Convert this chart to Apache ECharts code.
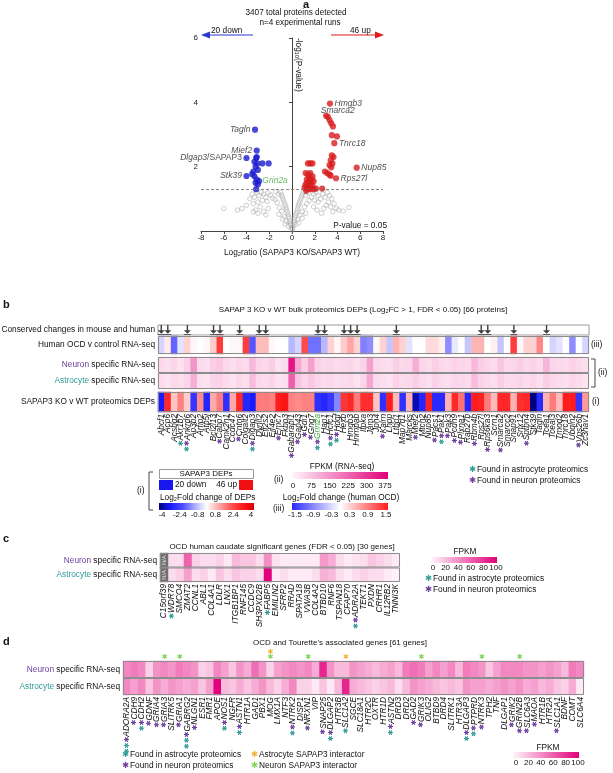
<!DOCTYPE html>
<html>
<head>
<meta charset="utf-8">
<script src="https://cdn.jsdelivr.net/npm/echarts/dist/echarts.min.js"></script>
<style>
html,body{margin:0;padding:0;background:#ffffff;}
#chart{width:613px;height:773px;}
</style>
</head>
<body>
<div id="chart"></div>
<script>
// ================= DATA =================
// ---- Panel a: volcano (x = log2 ratio, y = -log10 p) ----
const volcanoGray = [
 [0.0,0.02],[0.05,0.08],[-0.05,0.1],[0.1,0.15],[-0.1,0.18],[0.15,0.25],[-0.15,0.22],[0.2,0.32],[-0.2,0.3],
 [0.25,0.4],[-0.25,0.38],[0.3,0.48],[-0.3,0.45],[0.38,0.55],[-0.35,0.53],[0.45,0.62],[-0.42,0.6],[0.5,0.7],
 [-0.5,0.68],[0.55,0.78],[-0.55,0.75],[0.62,0.85],[-0.62,0.82],[0.7,0.92],[-0.7,0.9],[0.78,1.0],[-0.78,0.98],
 [0.85,1.08],[-0.85,1.05],[0.92,1.15],[-0.92,1.12],[1.0,1.22],[-1.0,1.2],
 [0.3,0.2],[-0.3,0.15],[0.5,0.35],[-0.5,0.3],[0.7,0.5],[-0.7,0.45],[0.9,0.6],[-0.9,0.62],[1.1,0.75],[-1.1,0.72],
 [1.3,0.85],[-1.3,0.88],[1.5,0.95],[-1.5,0.98],[1.7,1.05],[-1.7,1.02],[1.2,1.1],[-1.2,1.15],[1.45,1.2],[-1.45,1.22],
 [0.6,0.25],[-0.6,0.22],[0.9,0.4],[-0.85,0.38],[1.2,0.55],[-1.15,0.52],
 [1.9,1.15],[2.1,1.2],[2.3,1.1],[2.0,0.95],[2.3,0.9],[2.5,1.0],[2.7,1.15],[2.9,1.05],[3.1,1.2],[3.3,1.1],
 [3.5,1.0],[3.2,0.9],[3.0,0.8],[2.8,0.7],[3.4,0.75],[3.7,0.85],[3.9,0.7],[4.1,0.65],[3.6,0.6],[2.6,0.55],
 [1.9,0.75],[2.2,0.65],[5.0,0.73],[4.5,0.62],
 [-1.9,1.12],[-2.1,1.18],[-2.3,1.05],[-2.5,1.15],[-2.7,1.2],[-2.9,1.1],[-3.1,1.2],[-3.3,1.05],[-3.5,1.15],
 [-3.7,1.0],[-2.2,0.92],[-2.6,0.95],[-3.0,0.9],[-3.4,0.85],[-2.8,0.75],[-3.2,0.65],[-2.5,0.6],[-3.0,0.55],
 [-3.4,0.6],[-2.1,0.7],[-4.0,0.8],[-4.4,0.7],[-4.8,0.65],[-6.0,0.7],[-2.3,0.5]
];
const volcanoDown = [
 [-3.25,3.15],[-3.1,2.5],[-4.0,2.27],[-3.15,2.27],[-3.3,2.15],[-3.05,2.1],[-2.6,2.1],[-2.05,2.1],[-3.2,2.0],
 [-3.0,1.9],[-4.0,1.71],[-3.5,1.77],[-3.3,1.7],[-3.1,1.6],[-3.2,1.5],[-3.0,1.45],[-3.15,1.3],[-3.4,1.85],
 [-2.9,1.55],[-3.1,2.3]
];
const volcanoUp = [
 [3.34,3.96],[3.0,3.58],[3.15,3.55],[3.3,3.45],[3.45,3.35],[3.6,3.25],[3.5,2.98],[3.95,2.94],[3.72,2.73],
 [3.5,2.35],[3.65,2.3],[3.4,2.2],[3.3,2.05],[3.45,1.98],[3.55,2.1],[5.69,1.97],[2.9,1.85],[3.1,1.8],[3.3,1.75],
 [3.87,1.64],[2.65,1.32],[3.4,1.72],
 [1.4,2.1],[1.6,2.1],[1.8,2.1],[1.2,1.8],[1.4,1.75],[1.6,1.8],[1.8,1.7],[1.3,1.6],[1.5,1.55],[1.7,1.6],
 [1.9,1.55],[1.2,1.45],[1.4,1.4],[1.6,1.45],[1.8,1.4],[1.1,1.35],[1.3,1.32],[1.5,1.3],[1.7,1.32],[1.9,1.3],
 [2.1,1.32],[1.35,1.5],[1.55,1.65],[1.25,1.25]
];
const downLabelIdx = [[0,'Tagln'],[1,'Mief2'],[2,'Dlgap3/SAPAP3'],[10,'Stk39'],[13,'Grin2a']];
const upLabelIdx = [[0,'Hmgb3'],[1,'Smarca2'],[8,'Tnrc18'],[15,'Nup85'],[19,'Rps27l']];
const pThreshold = 1.301; // -log10(0.05)

// ---- Panel b ----
const bProteins = ["Abcf1","Acp6","Acsbg2","Akr1b7","Ankrd6","Ap3b2","Arfip2","Atp5j","Bcl2l13","Cabp7",
 "Camk2n1","Ccdc47","Cntn6","Colgalt2","Dlgap3","Dynll2","Eif2s2","Eif4e2","Emc7","Fkbp3",
 "Gabarapl1","Gap43","Gdi1","Gng7","Grin2a","Hap1","Hcfc1","Hdgf","Hexb","Hmgb3",
 "Hnrnpab","Itpka","Jam3","Jph4","Kalrn","Lhpp","Ltbp1","Map7d1","Marcks","Mief2",
 "Mtch2","Nup85","Pacs1","Pak1","Pak3","Pcdh9","Plxna1","Rab27b","Rbm4b","Rps27l",
 "Rps6ka3","Scrn1","Smarca2","Smarcc2","Snap91","Snx12","Sptbn4","Stk39","Tagln","Tcea1",
 "Tceal3","Tmod2","Tnrc18","Ubqln2","Vps26b","Zc3hav1"];
const bDEP = [-3.0,2.8,0.7,1.5,0.6,-2.5,1.4,-2.8,1.0,1.6, -2.6,1.0,2.8,-2.8,-3.0,1.6,1.6,1.5,3.0,3.2,
 1.5,1.4,1.5,1.5,-2.6,-2.8,-2.4,-1.4,2.6,2.8, 1.6,2.7,2.7,0.7,-2.6,3.0,0.8,-2.6,0.9,-3.6,
 -2.8,2.9,-2.7,-2.7,0.9,2.8,1.7,-2.8,3.0,2.9, 1.6,0.8,2.8,2.8,0.9,2.7,2.8,-4.0,-2.7,0.9,
 1.6,0.8,3.0,3.0,-2.5,1.2];
const bHumanOCD = [-0.3,0.15,-1.1,-0.2,0.3,0.05,0.0,0.05,0.35,1.3, 0.0,0.05,0.05,1.3,-1.2,0.45,0.45,0.05,0.0,0.0,
 -0.5,-0.3,1.2,-1.0,-1.0,-0.5,0.3,0.05,0.35,0.6, 0.3,-0.9,-0.8,0.05,0.3,-0.4,0.5,0.3,-0.2,0.0,
 0.0,0.25,0.25,0.1,-0.8,-0.15,0.0,-0.4,0.5,0.5, 0.0,0.1,-0.4,0.0,1.3,0.05,0.3,0.3,0.8,0.0,
 -0.3,-0.2,0.0,-0.8,0.0,-0.3];
const bNeuronFPKM = [45,35,50,30,55,150,40,35,60,70, 45,35,50,40,95,50,45,60,30,40,
 345,120,60,130,55,45,50,40,45,50, 35,55,130,45,40,35,60,45,50,110,
 50,40,60,45,40,55,50,45,95,60, 50,40,75,45,50,60,45,55,40,100, 50,45,40,55,45,35];
const bAstroFPKM = [40,30,45,35,50,110,35,30,50,55, 40,30,45,35,90,45,40,50,30,35,
 230,80,50,70,50,40,45,35,40,45, 30,50,120,40,35,30,55,40,45,60,
 45,35,55,40,35,50,45,40,90,55, 45,35,60,40,45,50,40,50,35,60, 45,40,35,50,40,30];
const bConserved = [0,1,4,8,9,12,15,16,24,25,28,29,30,36,49,50,54,59];
// star codes: p = found in neuron proteomics, t = found in astrocyte proteomics (nearest the name first)
const bStars = {3:'t',4:'pt',9:'p',12:'p',14:'pt',18:'p',20:'p',21:'p',22:'p',23:'p',24:'pt',26:'pt',27:'pt',
 34:'p',39:'p',42:'p',43:'pt',44:'p',45:'p',46:'p',48:'p',50:'p',52:'p',56:'p',64:'p'};
const bRowsII = ['Neuron','Astrocyte'];
const depTicks = ['-4','-2.4','-0.8','0.8','2.4','4'];
const ocdTicks = ['-1.5','-0.9','-0.3','0.3','0.9','1.5'];
const fpkmTicksB = ['0','75','150','225','300','375'];

// ---- Panel c ----
const cGenes = ['C15orf39','WDR78','SMCO4','ZMAT2','CCNL1','ABL1','COL4A1','LDLR','LNX1','ITGB1BP1',
 'RNF145','CCDC9','SH3PXD2B','FABP5','EMILIN2','SFRP2','RRAD','SPATA18','VWA3B','COL4A2',
 'BTBD10','RNF6','TSPAN18','CFAP70','ADRA2A','TEKT1','PXDN','CRHR1','IL12RB2','TNNI3K'];
const cNeuron = [null,10,10,60,15,10,10,15,5,25, 20,20,10,42,8,5,5,5,5,5, 38,30,10,5,8,10,20,15,10,5];
const cAstro  = [null,10,15,35,10,15,5,20,10,20, 15,15,10,100,5,10,5,5,5,10, 28,25,10,5,10,15,10,10,5,2];
const cStars = {1:'t',13:'t',24:'pt'};
const fpkmTicksCD = ['0','20','40','60','80','100'];

// ---- Panel d ----
const dGenes = ['ADORA2A','CDH9','CDH2','GDNF','GRIA4','GRIA3','SLITRK5','GRIA1','GABRG2','NLGN1',
 'ESR1','FMR1','APOE','NOS1','NGFR','ASTN1','HTR1A','GAD1','PBX1','MOG',
 'LMX1A','NTF3','NTRK2','DISP1','NRXN1','VIP','SNAP25','DLGAP2','HTR3B','SLC1A2',
 'SGCE','SLC18A1','HTR2C','OXTR','HTR1D','ASTN2','DRD3','DRD2','GAD2','GRIK3',
 'OLIG2','BTBD9','DRD4','SLITRK1','HTR3A','DLGAP3','PTPRD','NTRK3','TPH2','TNF',
 'DLGAP1','GRIK2','GRIN2B','SLC6A3','MAOA','HTR1B','HTR2A','SLC1A1','BDNF','COMT','SLC6A4'];
const dNeuron = [45,50,45,15,40,45,40,50,45,40, 15,20,45,35,20,40,30,55,40,15, 35,40,45,40,
 45,30,85,40,25,25,40,35,30,25, 30,35,25,50,55,50,35,45,35,45, 25,50,45,40,20,35,45,45,45,40, 40,35,40,35,25,50,45];
const dAstro = [45,35,45,20,40,30,40,35,30,35, 20,35,100,25,20,30,20,30,40,25, 15,30,45,15,
 15,5,20,5,25,85,30,25,20,15, 20,25,10,25,40,35,30,25,20,25, 20,40,35,35,30,35,40,35,40,30, 35,25,30,20,15,30,5];
const dStars = {0:'ptt',1:'p',2:'pt',3:'p',4:'p',5:'p',7:'p',8:'ptt',9:'p',13:'pt',15:'pt',22:'pt',24:'p',
 26:'p',27:'pt',29:'t',35:'pt',38:'p',39:'p',45:'pt',46:'pt',47:'p',51:'p',52:'p',53:'p',54:'p',57:'p'};
// SAPAP3 interactors: o = astrocyte interactor, g = neuron interactor
const dInteractors = {5:'g',7:'g',19:'og',24:'g',29:'o',39:'g',47:'g',52:'g'};

// ================= STYLE =================
const FONT = '"Liberation Sans", Arial, Helvetica, sans-serif';
const SYMF = '"DejaVu Sans", sans-serif';
const C_PURPLE = '#6a3d9e', C_TEAL = '#2f9c98', C_GREEN = '#7fd356', C_ORANGE = '#f2b13c', C_GENEGREEN = '#3ea83e';
const depColors = ['#00007e','#1a1aff','#4f4fff','#a9a9ff','#ffffff','#ffaaaa','#ff5a5a','#ff1c1c','#dd0000'];
const ocdColors = ['#2a2aff','#ffffff','#ff1e1e'];
const fpkmColors = ['#fff6fa','#e2007b'];
const STAR = '\u2731';

const chart = echarts.init(document.getElementById('chart'), null, {renderer:'canvas', width:613, height:773});

const starRich = {
  p:{color:C_PURPLE, fontSize:7, fontFamily:SYMF, fontStyle:'normal'},
  t:{color:C_TEAL, fontSize:7, fontFamily:SYMF, fontStyle:'normal'},
  n:{color:'#111', fontSize:8.3, fontFamily:FONT, fontStyle:'italic'},
  gg:{color:C_GENEGREEN, fontSize:8.3, fontFamily:FONT, fontStyle:'italic'}
};
function geneLabel(name, code, style){
  let s = '';
  if (code) for (let i = code.length-1; i >= 0; i--) s += '{' + code[i] + '|' + STAR + '}';
  return s + '{' + (style || 'n') + '|' + name + '}';
}
const rowLabelRich = {
  s:{color:'#111', fontSize:8.3, fontFamily:FONT},
  nn:{color:C_PURPLE, fontSize:8.3, fontFamily:FONT},
  aa:{color:C_TEAL, fontSize:8.3, fontFamily:FONT}
};
function rowLabel(v){
  if (v === 'Neuron') return '{nn|Neuron}{s| specific RNA-seq}';
  if (v === 'Astrocyte') return '{aa|Astrocyte}{s| specific RNA-seq}';
  return '{s|' + v + '}';
}

const labelPlacement = {Tagln:'left', Mief2:'left', 'Dlgap3/SAPAP3':'left', Stk39:'left', Grin2a:'right',
  Hmgb3:'right', Smarca2:'right', Tnrc18:'right', Nup85:'right', Rps27l:'right'};
const labelOffset = {Smarca2:[-10,-5], Grin2a:[1,1]};
function volcanoData(pts, labs){
  return pts.map((p, i) => {
    const L = labs.find(l => l[0] === i);
    const d = {value: p};
    if (L) {
      const name = L[1];
      let fmt = '{i|' + name + '}';
      if (name === 'Dlgap3/SAPAP3') fmt = '{i|Dlgap3}{r|/SAPAP3}';
      if (name === 'Grin2a') fmt = '{gr|Grin2a}';
      d.label = {show:true, position: labelPlacement[name], distance:1.5, offset: labelOffset[name] || [0,0],
        formatter: fmt,
        rich:{ i:{fontSize:8.5, fontStyle:'italic', color:'#222', fontFamily:FONT},
               r:{fontSize:8.5, color:'#222', fontFamily:FONT},
               gr:{fontSize:8.5, fontStyle:'italic', color:C_GENEGREEN, fontFamily:FONT}}};
    }
    return d;
  });
}

const hiddenCat = (gi, data) => ({type:'category', gridIndex:gi, data, axisLine:{show:false}, axisTick:{show:false},
  axisLabel:{show:false}, splitLine:{show:false}, splitArea:{show:false}});
const rowAxis = (gi, data, inverse) => ({type:'category', gridIndex:gi, data, inverse: !!inverse,
  axisLine:{show:false}, axisTick:{show:false}, splitLine:{show:false}, splitArea:{show:false},
  axisLabel:{show:true, interval:0, hideOverlap:false, margin:3, formatter: rowLabel, rich: rowLabelRich}});
const geneAxis = (gi, data, starMap, greenSet) => ({type:'category', gridIndex:gi, data,
  axisLine:{show:false}, axisTick:{show:false}, splitLine:{show:false},
  axisLabel:{show:true, rotate:90, interval:0, hideOverlap:false, margin:2,
    formatter:(v, i) => geneLabel(v, starMap[i], greenSet && greenSet.includes(v) ? 'gg' : 'n'),
    rich: starRich}});

const xAxes = [
  {type:'value', gridIndex:0, min:-8, max:8, interval:2,
   axisLine:{show:true, onZero:false, lineStyle:{color:'#444', width:1}},
   axisTick:{show:true, length:3, lineStyle:{color:'#444'}},
   axisLabel:{fontSize:8, color:'#222', margin:3, fontFamily:FONT},
   splitLine:{show:false},
   name:'Log\u2082ratio (SAPAP3 KO/SAPAP3 WT)', nameLocation:'middle', nameGap:18,
   nameTextStyle:{fontSize:8.3, color:'#111', fontFamily:FONT}},
  hiddenCat(1, bProteins),
  hiddenCat(2, bProteins),
  hiddenCat(3, bProteins),
  geneAxis(4, bProteins, bStars, ['Grin2a']),
  geneAxis(5, cGenes, cStars),
  geneAxis(6, dGenes, dStars),
  {type:'category', gridIndex:6, data:dGenes, position:'top', axisLine:{show:false}, axisTick:{show:false},
   splitLine:{show:false},
   axisLabel:{show:true, interval:0, hideOverlap:false, margin:1, lineHeight:5,
     formatter:(v, i) => { const c = dInteractors[i]; if (!c) return ''; return c.split('').map(k => '{' + k + 'k|' + STAR + '}').join('\n'); },
     rich:{ gk:{color:C_GREEN, fontSize:7, fontFamily:SYMF, lineHeight:5}, ok:{color:C_ORANGE, fontSize:7, fontFamily:SYMF, lineHeight:5}}}}
];
const yAxes = [
  {type:'value', gridIndex:0, min:0, max:6, interval:2,
   axisLine:{show:true, onZero:true, lineStyle:{color:'#444', width:1}},
   axisTick:{show:true, length:3, lineStyle:{color:'#444'}},
   axisLabel:{fontSize:8, color:'#222', margin:3, fontFamily:FONT, showMinLabel:false},
   splitLine:{show:false}},
  rowAxis(1, ['Conserved changes in mouse and human']),
  rowAxis(2, ['Human OCD v control RNA-seq']),
  rowAxis(3, bRowsII, true),
  rowAxis(4, ['SAPAP3 KO v WT proteomics DEPs']),
  rowAxis(5, bRowsII, true),
  rowAxis(6, bRowsII, true)
];

const G = {
  volcano:{left:201, top:38, width:182, height:193},
  arrows:{left:158, top:325, width:431, height:10},
  human:{left:158, top:336, width:431, height:18},
  ii:{left:158, top:357, width:431, height:32},
  dep:{left:158, top:392, width:431, height:20},
  c:{left:160, top:553, width:240, height:29},
  d:{left:123, top:661, width:461, height:34}
};
const gridList = [G.volcano, G.arrows, G.human, G.ii, G.dep, G.c, G.d].map(g => Object.assign({outerBoundsMode:'none', containLabel:false}, g));
gridList[1].show = true; gridList[1].borderColor = '#9a9a9a'; gridList[1].borderWidth = 1; gridList[1].backgroundColor = '#fff';

const arrowPath = 'path://M4.3,0H5.7V9H4.3Z M1.5,8H8.5L5,13.5Z M1.5,14.2H8.5V15.5H1.5Z';

const series = [
  {type:'scatter', xAxisIndex:0, yAxisIndex:0, data: volcanoGray, symbolSize:4.5, silent:true, z:1,
   itemStyle:{color:'rgba(255,255,255,0)', borderColor:'#a9a9a9', borderWidth:0.7},
   markLine:{silent:true, symbol:['none','none'], label:{show:false}, animation:false,
     lineStyle:{type:[3,2], color:'#6a6a6a', width:0.8}, data:[{yAxis:pThreshold}]}},
  {type:'scatter', xAxisIndex:0, yAxisIndex:0, data: volcanoData(volcanoDown, downLabelIdx), symbolSize:6.2, z:3,
   itemStyle:{color:'#1c1cd0'}},
  {type:'scatter', xAxisIndex:0, yAxisIndex:0, data: volcanoData(volcanoUp, upLabelIdx), symbolSize:6.2, z:3,
   itemStyle:{color:'#d81d1d'}},
  {type:'scatter', xAxisIndex:1, yAxisIndex:1, data: bConserved.map(i => [i, 0]), symbol: arrowPath,
   symbolSize:[7,10], itemStyle:{color:'#111'}},
  {type:'heatmap', xAxisIndex:2, yAxisIndex:2, data: bHumanOCD.map((v, i) => [i, 0, v])},
  {type:'heatmap', xAxisIndex:3, yAxisIndex:3, data: bNeuronFPKM.map((v, i) => [i, 0, v]).concat(bAstroFPKM.map((v, i) => [i, 1, v]))},
  {type:'heatmap', xAxisIndex:4, yAxisIndex:4, data: bDEP.map((v, i) => [i, 0, v])},
  {type:'heatmap', xAxisIndex:5, yAxisIndex:5,
   data: cNeuron.map((v, i) => [i, 0, v]).concat(cAstro.map((v, i) => [i, 1, v])).filter(d => d[2] !== null)},
  {type:'heatmap', xAxisIndex:5, yAxisIndex:5,
   data: cNeuron.map((v, i) => [i, 0, v]).concat(cAstro.map((v, i) => [i, 1, v])).filter(d => d[2] === null)
     .map(d => ({value:[d[0], d[1], 0], itemStyle:{color:'#6e6e6e'}})),
   label:{show:true, formatter:'N/A', rotate:90, fontSize:6, color:'#e2e2e2', fontFamily:FONT}},
  {type:'heatmap', xAxisIndex:6, yAxisIndex:6,
   data: dNeuron.map((v, i) => [i, 0, v]).concat(dAstro.map((v, i) => [i, 1, v]))}
];

const visualMap = [
  {type:'continuous', show:false, seriesIndex:4, min:-1.5, max:1.5, inRange:{color:ocdColors}},
  {type:'continuous', show:false, seriesIndex:5, min:0, max:375, inRange:{color:fpkmColors}},
  {type:'continuous', show:false, seriesIndex:6, min:-4, max:4, inRange:{color:depColors}},
  {type:'continuous', show:false, seriesIndex:[7,9], min:0, max:100, inRange:{color:fpkmColors}}
];

// ================= ANNOTATIONS =================
function T(x, y, text, o){
  o = o || {};
  return {type:'text', x, y, silent:true, z:100, rotation:o.rotation || 0,
    style:{text, fill:o.color || '#111', fontSize:o.size || 8.3, fontFamily:o.font || FONT,
      fontWeight:o.weight || 'normal', fontStyle:o.style || 'normal',
      textAlign:o.align || 'left', align:o.align || 'left', textVerticalAlign:'middle', verticalAlign:'middle',
      rich:o.rich}};
}
function R(x, y, w, h, fill, stroke){
  return {type:'rect', silent:true, z:100, shape:{x, y, width:w, height:h},
    style:{fill: fill || 'none', stroke: stroke || null, lineWidth:1}};
}
function grad(colors){
  return new echarts.graphic.LinearGradient(0, 0, 1, 0, colors.map((c, i) => ({offset:i/(colors.length-1), color:c})));
}
function ticks(labels, x0, x1, y, size){
  return labels.map((l, i) => T(x0 + (x1 - x0) * i / (labels.length - 1), y, l, {align:'center', size: size || 8}));
}
function outline(g, rows){
  const h = g.height / rows;
  const out = [];
  for (let r = 0; r < rows; r++) out.push(R(g.left + 0.5, g.top + r*h + 0.5, g.width - 1, h - 1, null, '#8c8c8c'));
  return out;
}
function starLegend(x, y, color, text){
  return [T(x, y, STAR, {color, size:8.5, font:SYMF}), T(x + 8, y, text, {size:8.3})];
}

const graphic = [
  // panel letters
  T(303, 5, 'a', {weight:'bold', size:11}),
  T(3, 305, 'b', {weight:'bold', size:11}),
  T(3, 539, 'c', {weight:'bold', size:11}),
  T(3, 642, 'd', {weight:'bold', size:11}),
  // panel a
  T(296, 13, '3407 total proteins detected', {align:'center', size:8.2}),
  T(300, 23, 'n=4 experimental runs', {align:'center', size:8.2}),
  {type:'line', silent:true, z:100, shape:{x1:209, y1:35, x2:253, y2:35}, style:{stroke:'#2b3bd0', lineWidth:1.2}},
  {type:'polygon', silent:true, z:100, shape:{points:[[201,35],[210,31.5],[210,38.5]]}, style:{fill:'#2b3bd0'}},
  {type:'line', silent:true, z:100, shape:{x1:331, y1:35, x2:375, y2:35}, style:{stroke:'#e01b1b', lineWidth:1.2}},
  {type:'polygon', silent:true, z:100, shape:{points:[[384,35],[375,31.5],[375,38.5]]}, style:{fill:'#e01b1b'}},
  T(211, 30.5, '{k|20 }{b|down}', {rich:{k:{fontSize:8.3, color:'#222', fontFamily:FONT}, b:{fontSize:8.3, color:'#2b3bd0', fontFamily:FONT}}}),
  T(350, 30.5, '{k|46 }{b|up}', {rich:{k:{fontSize:8.3, color:'#222', fontFamily:FONT}, b:{fontSize:8.3, color:'#e01b1b', fontFamily:FONT}}}),
  T(298, 38, '-log\u2081\u2080(P-value)', {rotation:-Math.PI/2, size:8.3}),
  T(387, 226, 'P-value = 0.05', {align:'right', size:8.3}),
  // panel b
  T(363, 310, 'SAPAP 3 KO v WT bulk proteomics DEPs (Log\u2082FC > 1, FDR < 0.05) [66 proteins]', {align:'center', size:8}),
  ...outline(G.human, 1), ...outline(G.ii, 2), ...outline(G.dep, 1),
  T(591, 345, '(iii)', {size:8.5}),
  {type:'polyline', silent:true, z:100, shape:{points:[[591,359],[595,359],[595,387],[591,387]]}, style:{stroke:'#333', lineWidth:0.9, fill:null}},
  T(598, 373, '(ii)', {size:8.5}),
  T(592, 402, '(i)', {size:8.5}),
  // legend (i)
  {type:'polyline', silent:true, z:100, shape:{points:[[153,472],[149,472],[149,510],[153,510]]}, style:{stroke:'#333', lineWidth:0.9, fill:null}},
  T(137, 491, '(i)', {size:8.5}),
  R(159.5, 469.5, 94, 9, '#fff', '#9a9a9a'),
  T(206, 474, 'SAPAP3 DEPs', {align:'center', size:8}),
  R(159, 480, 14, 10, '#1717ee'),
  T(175, 485, '20 down', {size:8.3}),
  T(237, 485, '46 up', {align:'right', size:8.3}),
  R(239, 480, 14, 10, '#ee1010'),
  T(160, 498, 'Log\u2082Fold change of DEPs', {size:8.3}),
  {type:'rect', silent:true, z:100, shape:{x:159, y:503, width:95, height:7}, style:{fill:grad(depColors)}},
  ...ticks(depTicks, 162, 251, 515),
  // legend (ii) and (iii)
  T(274, 480, '(ii)', {size:8.5}),
  T(342, 467, 'FPKM (RNA-seq)', {align:'center', size:8.3}),
  {type:'rect', silent:true, z:100, shape:{x:292, y:472, width:96, height:7}, style:{fill:grad(fpkmColors)}},
  ...ticks(fpkmTicksB, 293, 385, 486),
  T(341, 498, 'Log\u2082Fold change (human OCD)', {align:'center', size:8.3}),
  T(273, 509, '(iii)', {size:8.5}),
  {type:'rect', silent:true, z:100, shape:{x:292, y:503, width:96, height:7}, style:{fill:grad(ocdColors)}},
  ...ticks(ocdTicks, 295, 386, 515),
  ...starLegend(469, 470, C_TEAL, 'Found in astrocyte proteomics'),
  ...starLegend(469, 481, C_PURPLE, 'Found in neuron proteomics'),
  // panel c
  T(282, 547, 'OCD human caudate significant genes (FDR < 0.05) [30 genes]', {align:'center', size:8}),
  ...outline(G.c, 2),
  T(465, 552, 'FPKM', {align:'center', size:8.3}),
  {type:'rect', silent:true, z:100, shape:{x:431, y:557, width:66, height:6}, style:{fill:grad(fpkmColors)}},
  ...ticks(fpkmTicksCD, 433, 496, 568),
  ...starLegend(425, 579, C_TEAL, 'Found in astrocyte proteomics'),
  ...starLegend(425, 590, C_PURPLE, 'Found in neuron proteomics'),
  // panel d
  T(340, 643, "OCD and Tourette's associated genes [61 genes]", {align:'center', size:8}),
  ...outline(G.d, 2),
  ...starLegend(122, 755, C_TEAL, 'Found in astrocyte proteomics'),
  ...starLegend(122, 766, C_PURPLE, 'Found in neuron proteomics'),
  ...starLegend(251, 755, C_ORANGE, 'Astrocyte SAPAP3 interactor'),
  ...starLegend(251, 766, C_GREEN, 'Neuron SAPAP3 interactor'),
  T(548, 748, 'FPKM', {align:'center', size:8.3}),
  {type:'rect', silent:true, z:100, shape:{x:513, y:752, width:66, height:6}, style:{fill:grad(fpkmColors)}},
  ...ticks(fpkmTicksCD, 516, 578, 763)
];

chart.setOption({
  animation:false,
  backgroundColor:'#ffffff',
  textStyle:{fontFamily:FONT},
  grid: gridList,
  xAxis: xAxes,
  yAxis: yAxes,
  visualMap,
  series,
  graphic
});
</script>
</body>
</html>
